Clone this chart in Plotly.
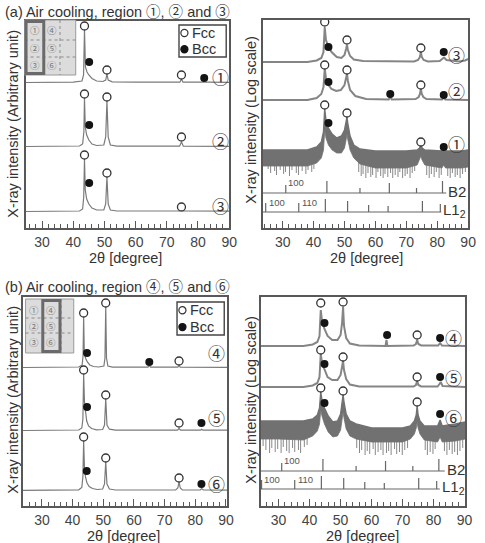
import plotly.graph_objects as go

W, H = 485, 543
FONT = "Liberation Sans, Arial, sans-serif"
CJK = "Noto Sans CJK JP"
TXT = "#333333"
LINE = "#585858"

# ======================= DATA =======================
# (a) left panel, linear scale: 2theta [deg] / intensity (arb. unit, height above baseline)
A1_X = [24.7, 40, 42.8, 43.3, 43.6, 43.9, 44.4, 45.0, 46.0, 47.5, 49.5, 50.4, 50.8, 51.2, 52.5, 60, 74.2, 74.7, 75.2, 81.5, 82.2, 83, 90]
A1_Y = [0.5, 0.8, 2, 8, 53, 16, 11, 8, 4.5, 2, 1.5, 3, 9, 3, 1.2, 0.8, 0.8, 4, 0.8, 0.8, 1.5, 0.8, 0.6]
A2_X = [24.7, 42, 43.0, 43.4, 43.6, 43.85, 44.3, 45.0, 46.0, 47.5, 49.8, 50.4, 50.8, 51.2, 51.9, 54, 74.1, 74.7, 75.3, 90]
A2_Y = [0.5, 1, 3, 15, 49, 20, 12, 7, 3, 1.5, 2, 10, 46, 10, 2, 0.8, 0.8, 5, 0.8, 0.6]
A3_X = [24.7, 42, 43.0, 43.35, 43.6, 43.85, 44.3, 45.0, 46.0, 47.5, 49.8, 50.4, 50.8, 51.2, 51.9, 54, 74.2, 74.7, 75.2, 90]
A3_Y = [0.5, 1, 3, 15, 53, 22, 13, 8, 4, 2, 2, 8, 35, 8, 2, 1, 1, 2.5, 1, 0.8]
A1_FCC_X, A1_FCC_Y = [43.6, 50.8, 74.7], [57, 13, 8]
A1_BCC_X, A1_BCC_Y = [45.1, 82.0], [21, 5]
A2_FCC_X, A2_FCC_Y = [43.6, 50.8, 74.7], [53, 50, 10]
A2_BCC_X, A2_BCC_Y = [45.1], [22]
A3_FCC_X, A3_FCC_Y = [43.6, 50.8, 74.7], [57, 39, 5]
A3_BCC_X, A3_BCC_Y = [45.1], [29]

# (a) right panel, log scale (display height above baseline)
RA3_X = [23.5, 38, 41.0, 42.5, 43.2, 43.6, 44.0, 44.8, 45.8, 47.5, 49.0, 50.0, 50.5, 50.8, 51.1, 51.8, 53.0, 56, 72.5, 73.8, 74.4, 74.7, 75.0, 75.6, 77, 80.8, 81.8, 82.2, 83.0, 87, 89, 90]
RA3_Y = [0, 0, 1.5, 4, 10, 35, 22, 15, 10, 5, 4, 7, 13, 17, 12, 6, 2.5, 1, 0.5, 2, 5, 10, 5, 2, 0.5, 1, 3.5, 4.5, 2, 0.5, 1.5, 3]
RA2_X = [23.5, 38, 41.0, 42.5, 43.2, 43.6, 44.0, 44.8, 45.8, 47.3, 48.8, 50.0, 50.5, 50.8, 51.1, 51.8, 53.5, 57, 64.3, 64.8, 65.3, 73.0, 74.0, 74.4, 74.7, 75.0, 75.5, 76.5, 81.6, 82.1, 82.6, 90]
RA2_Y = [0, 0, 2, 6, 13, 31, 22, 15, 11, 9, 10, 15, 22, 26, 19, 10, 4, 1, 0.5, 3, 0.5, 1, 3, 6, 11, 6, 3, 1, 0.5, 2.5, 0.5, 0]
RA1_X = [23.5, 30, 38, 41, 42.5, 43.2, 43.6, 44.0, 44.8, 46.0, 47.5, 49.0, 50.0, 50.5, 50.8, 51.1, 51.8, 53.0, 55, 60, 70, 73.5, 74.3, 74.7, 75.1, 76, 81.5, 82.1, 82.7, 88, 90]
RA1_UP = [0, 0, 0, 3, 8, 18, 41, 30, 22, 16, 12, 14, 20, 28, 33, 26, 14, 5, 1, -1, -1, 0, 2, 6, 2, 0, -1, 1, -1, -1, 0]
RA1_LO = [-16, -16, -16, -13, -8, 0, 20, 12, 5, 0, -3, -3, 2, 10, 16, 10, 0, -8, -14, -18, -18, -15, -10, -6, -10, -15, -18, -15, -18, -18, -17]
RA1_SPK_X = [25.3, 26.1, 27.4, 28.0, 29.2, 30.3, 30.9, 32.2, 33.0, 34.4, 35.1, 36.3, 37.5, 38.2, 39.4, 40.1,
             54.6, 55.4, 56.0, 56.9, 57.6, 58.5, 59.1, 60.2, 60.8, 61.7, 62.5, 63.1, 64.0, 64.9, 65.6, 66.4,
             67.3, 67.9, 68.8, 69.6, 70.3, 71.2, 71.9, 72.7, 76.6, 77.4, 78.1, 79.0, 79.7, 80.6, 81.3,
             83.4, 84.2, 84.9, 85.8, 86.5, 87.4, 88.2, 89.1]
RA1_SPK_D = [-19, -23, -21, -25, -20, -24, -22, -26, -20, -23, -25, -21, -24, -20, -22, -19,
             -22, -26, -24, -28, -23, -27, -25, -28, -22, -26, -28, -24, -27, -23, -28, -25,
             -27, -22, -28, -26, -24, -28, -23, -21, -25, -28, -24, -27, -22, -28, -25,
             -26, -28, -23, -27, -25, -28, -24, -22]
RA3_FCC_X, RA3_FCC_Y = [43.6, 50.8, 74.7], [40, 22, 14]
RA3_BCC_X, RA3_BCC_Y = [44.8, 82.1], [15, 10]
RA2_FCC_X, RA2_FCC_Y = [43.6, 50.8, 74.7], [35, 30, 15]
RA2_BCC_X, RA2_BCC_Y = [44.8, 64.8, 82.1], [18, 6, 5]
RA1_FCC_X, RA1_FCC_Y = [43.6, 50.8, 74.7], [45, 37, 8]
RA1_BCC_X, RA1_BCC_Y = [44.8, 82.1], [27, 3]

# (b) left panel
B4_X = [23.7, 42, 43.1, 43.4, 43.6, 43.8, 44.2, 44.8, 45.6, 46.8, 48.5, 50.2, 50.55, 50.8, 51.05, 51.5, 53, 64.6, 65.0, 65.4, 74.3, 74.7, 75.1, 90.4]
B4_Y = [0.5, 1, 3, 12, 51, 16, 10, 6, 3, 1.5, 1, 2, 10, 61, 10, 2, 0.8, 0.8, 2.5, 0.8, 0.8, 2.5, 0.8, 0.6]
B5_X = [23.7, 42, 43.0, 43.35, 43.6, 43.85, 44.2, 44.6, 45.2, 46.2, 47.8, 49.8, 50.4, 50.8, 51.2, 52, 54, 74.2, 74.7, 75.2, 81.7, 82.1, 82.5, 90.4]
B5_Y = [0.5, 1, 3, 12, 57, 30, 20, 10, 5, 2.5, 1.2, 1.5, 6, 32, 6, 1.8, 0.8, 0.8, 2.5, 0.8, 0.8, 1.8, 0.8, 0.8]
B6_X = [23.7, 42, 43.0, 43.35, 43.6, 43.85, 44.2, 44.7, 45.4, 46.5, 48.0, 49.8, 50.4, 50.8, 51.2, 52, 54, 73.6, 74.3, 74.7, 75.1, 75.8, 81.6, 82.1, 82.6, 90.4]
B6_Y = [0.6, 1.2, 3.5, 14, 50, 24, 14, 8, 4.5, 2.5, 1.5, 2, 7, 29, 7, 2, 1, 1, 3, 9, 3, 1, 1, 2.5, 1, 0.8]
B4_FCC_X, B4_FCC_Y = [43.6, 50.8, 74.7], [55, 65, 7]
B4_BCC_X, B4_BCC_Y = [44.7, 65.0], [15, 6]
B5_FCC_X, B5_FCC_Y = [43.6, 50.8, 74.7], [61, 36, 8]
B5_BCC_X, B5_BCC_Y = [44.7, 82.0], [24, 8]
B6_FCC_X, B6_FCC_Y = [43.6, 50.8, 74.7], [54, 33, 13]
B6_BCC_X, B6_BCC_Y = [44.6, 82.0], [20, 7]

# (b) right panel, log scale
RB4_X = [24.2, 38, 41.0, 42.5, 43.2, 43.6, 44.0, 44.8, 45.8, 47.3, 49.0, 50.0, 50.5, 50.8, 51.1, 51.8, 53.0, 56, 64.5, 64.8, 65.1, 73.5, 74.3, 74.7, 75.1, 76, 81.5, 82.1, 82.7, 90.2]
RB4_Y = [0, 0, 1.5, 4, 10, 36, 25, 17, 10, 6, 6, 11, 24, 39, 20, 8, 2.5, 0.5, 0, 6, 0, 0.5, 2, 6, 2, 0.5, 0.5, 3, 0.5, 0]
RB5_X = [24.2, 38, 41.0, 42.5, 43.2, 43.6, 44.0, 44.8, 45.8, 47.3, 49.0, 50.0, 50.5, 50.8, 51.1, 51.8, 53.0, 56, 73.5, 74.3, 74.7, 75.1, 76, 81.3, 81.9, 82.3, 82.9, 90.2]
RB5_Y = [0, 0, 1.5, 4, 10, 33, 24, 17, 10, 7, 7, 12, 21, 26, 17, 8, 2.5, 0.5, 0.5, 2, 6, 2, 0.5, 0.5, 3, 5, 1, 0]
RB6_X = [24.2, 30, 38, 41, 42.5, 43.2, 43.6, 44.0, 44.8, 46.0, 47.5, 49.0, 50.0, 50.5, 50.8, 51.1, 51.8, 53.0, 55, 60, 70, 72.5, 73.8, 74.4, 74.7, 75.0, 75.6, 77, 81.3, 82.1, 82.8, 87, 90.2]
RB6_UP = [3, 3, 3, 5, 9, 16, 32, 24, 16, 8, 2, 3, 10, 22, 29, 22, 10, 3, 0, -4, -4, -2, 3, 9, 18, 9, 3, -2, -2, 4, -2, 0, 2]
RB6_LO = [-15, -15, -16, -12, -7, 0, 14, 8, 0, -8, -13, -12, -6, 5, 12, 6, -5, -12, -15, -18, -18, -15, -10, -4, 2, -4, -10, -16, -18, -13, -18, -17, -15]
RB6_SPK_X = [25.0, 25.9, 27.1, 27.8, 28.9, 29.7, 30.8, 31.5, 32.6, 33.4, 34.5, 35.2, 36.4, 37.1, 38.3, 39.2,
             55.2, 56.1, 56.8, 57.9, 58.6, 59.4, 60.5, 61.2, 62.1, 63.0, 63.7, 64.8, 65.5, 66.3, 67.4,
             68.1, 69.0, 69.9, 70.7, 71.6, 77.3, 78.0, 78.9, 79.8, 80.5, 83.5, 84.3, 85.1, 86.0, 86.8, 87.7, 88.5, 89.4]
RB6_SPK_D = [-22, -26, -29, -24, -28, -25, -29, -23, -27, -29, -24, -28, -26, -29, -23, -21,
             -24, -29, -26, -31, -27, -30, -25, -31, -28, -26, -31, -29, -27, -31, -25,
             -30, -28, -31, -26, -24, -26, -31, -28, -30, -25, -27, -31, -26, -30, -28, -31, -27, -24]
RB4_FCC_X, RB4_FCC_Y = [43.6, 50.8, 74.7], [43, 44, 11]
RB4_BCC_X, RB4_BCC_Y = [44.8, 65.0, 82.1], [23, 11, 8]
RB5_FCC_X, RB5_FCC_Y = [43.6, 50.8, 74.7], [37, 30, 10]
RB5_BCC_X, RB5_BCC_Y = [44.8, 82.1], [23, 10]
RB6_FCC_X, RB6_FCC_Y = [43.6, 50.8, 74.7], [36, 33, 22]
RB6_BCC_X, RB6_BCC_Y = [44.8, 82.1], [21, 10]

# reference patterns (2theta, relative stick height)
B2_POS = [31.0, 44.3, 55.0, 64.5, 73.3, 81.7]
B2_H = [8, 12, 5, 10, 5, 12]
L12_POS = [24.5, 35.2, 43.8, 51.0, 57.8, 64.1, 75.2, 81.0]
L12_H = [9, 9, 13, 11, 7, 6, 11, 8]

TICK_VALS = [30, 40, 50, 60, 70, 80, 90]

# ======================= LAYOUT HELPERS =======================
def px(x):
    return x / W

def py(y):
    return 1 - y / H

PANELS = {
    "LT": dict(n="", xdom=(26, 233), ydom=(21, 228), xr=[24.7, 90]),
    "RT": dict(n="2", xdom=(267, 476), ydom=(20, 228), xr=[23.5, 90]),
    "LB": dict(n="3", xdom=(23, 231), ydom=(297, 506), xr=[23.7, 90.4]),
    "RB": dict(n="4", xdom=(265, 473), ydom=(297, 506), xr=[24.2, 90.2]),
}

fig = go.Figure()
layout_axes = {}
for key, p in PANELS.items():
    n = p["n"]
    h = p["ydom"][1] - p["ydom"][0]
    layout_axes["xaxis" + n] = dict(
        domain=[px(p["xdom"][0]), px(p["xdom"][1])], range=p["xr"], anchor="y" + n,
        showline=True, mirror=True, linecolor=LINE, linewidth=1.6,
        ticks="inside", ticklen=7, tickwidth=1.2, tickcolor=LINE,
        tickmode="array", tickvals=TICK_VALS,
        tickfont=dict(family=FONT, size=14, color="#444"),
        showgrid=False, zeroline=False, fixedrange=True,
        minor=dict(ticks="inside", ticklen=4, tickwidth=1, tickcolor=LINE,
                   tickmode="linear", tick0=0, dtick=2, showgrid=False),
    )
    layout_axes["yaxis" + n] = dict(
        domain=[py(p["ydom"][1]), py(p["ydom"][0])], range=[0, h], anchor="x" + n,
        showline=True, mirror=True, linecolor=LINE, linewidth=1.6,
        showticklabels=False, ticks="", showgrid=False, zeroline=False, fixedrange=True,
    )

def ax(key):
    n = PANELS[key]["n"]
    return dict(xaxis="x" + n, yaxis="y" + n)

def add_pattern(key, xs, ys, off, color="#7a7a7a", width=1.2):
    fig.add_trace(go.Scatter(x=xs, y=[off + v for v in ys], mode="lines",
                             line=dict(color=color, width=width), hoverinfo="skip",
                             showlegend=False, **ax(key)))

def add_band(key, xs, up, lo, off, spk_x=None, spk_d=None, color="#717171"):
    if spk_x:
        sx, sy = [], []
        for x, d in zip(spk_x, spk_d):
            sx += [x, x, None]
            sy += [off - 12, off + d, None]
        fig.add_trace(go.Scatter(x=sx, y=sy, mode="lines", line=dict(color="#7a7a7a", width=0.9),
                                 hoverinfo="skip", showlegend=False, **ax(key)))
    fig.add_trace(go.Scatter(x=xs, y=[off + v for v in lo], mode="lines",
                             line=dict(color=color, width=0.8), hoverinfo="skip",
                             showlegend=False, **ax(key)))
    fig.add_trace(go.Scatter(x=xs, y=[off + v for v in up], mode="lines", fill="tonexty",
                             fillcolor=color, line=dict(color=color, width=1.4),
                             hoverinfo="skip", showlegend=False, **ax(key)))

def add_markers(key, fx, fy, bx, by, off):
    fig.add_trace(go.Scatter(x=fx, y=[off + v for v in fy], mode="markers",
                             marker=dict(symbol="circle", size=8, color="white",
                                         line=dict(color="#333", width=1.3)),
                             hoverinfo="skip", showlegend=False, **ax(key)))
    fig.add_trace(go.Scatter(x=bx, y=[off + v for v in by], mode="markers",
                             marker=dict(symbol="circle", size=8, color="#141414",
                                         line=dict(width=0)),
                             hoverinfo="skip", showlegend=False, **ax(key)))

def add_refs(key, y_b2, y_l12, b2_end, l12_end, xr0):
    sx, sy = [xr0, b2_end, None], [y_b2, y_b2, None]
    for p_, h_ in zip(B2_POS, B2_H):
        sx += [p_, p_, None]
        sy += [y_b2, y_b2 + h_, None]
    sx += [xr0, l12_end, None]
    sy += [y_l12, y_l12, None]
    for p_, h_ in zip(L12_POS, L12_H):
        sx += [p_, p_, None]
        sy += [y_l12, y_l12 + h_, None]
    fig.add_trace(go.Scatter(x=sx, y=sy, mode="lines", line=dict(color="#666", width=1.2),
                             hoverinfo="skip", showlegend=False, **ax(key)))

# ---------- (a) left ----------
OFF_A = [145, 81, 16]
add_pattern("LT", A1_X, A1_Y, OFF_A[0])
add_pattern("LT", A2_X, A2_Y, OFF_A[1])
add_pattern("LT", A3_X, A3_Y, OFF_A[2])
add_markers("LT", A1_FCC_X, A1_FCC_Y, A1_BCC_X, A1_BCC_Y, OFF_A[0])
add_markers("LT", A2_FCC_X, A2_FCC_Y, A2_BCC_X, A2_BCC_Y, OFF_A[1])
add_markers("LT", A3_FCC_X, A3_FCC_Y, A3_BCC_X, A3_BCC_Y, OFF_A[2])

# ---------- (a) right ----------
OFF_RA = [78, 128, 166]
add_band("RT", RA1_X, RA1_UP, RA1_LO, OFF_RA[0], RA1_SPK_X, RA1_SPK_D)
add_pattern("RT", RA2_X, RA2_Y, OFF_RA[1], color="#858585", width=2.0)
add_pattern("RT", RA3_X, RA3_Y, OFF_RA[2], color="#858585", width=2.0)
add_refs("RT", 35, 16, 82.9, 81.3, 23.5)
add_markers("RT", RA1_FCC_X, RA1_FCC_Y, RA1_BCC_X, RA1_BCC_Y, OFF_RA[0])
add_markers("RT", RA2_FCC_X, RA2_FCC_Y, RA2_BCC_X, RA2_BCC_Y, OFF_RA[1])
add_markers("RT", RA3_FCC_X, RA3_FCC_Y, RA3_BCC_X, RA3_BCC_Y, OFF_RA[2])

# ---------- (b) left ----------
OFF_B = [138, 75, 15]
add_pattern("LB", B4_X, B4_Y, OFF_B[0])
add_pattern("LB", B5_X, B5_Y, OFF_B[1])
add_pattern("LB", B6_X, B6_Y, OFF_B[2])
add_markers("LB", B4_FCC_X, B4_FCC_Y, B4_BCC_X, B4_BCC_Y, OFF_B[0])
add_markers("LB", B5_FCC_X, B5_FCC_Y, B5_BCC_X, B5_BCC_Y, OFF_B[1])
add_markers("LB", B6_FCC_X, B6_FCC_Y, B6_BCC_X, B6_BCC_Y, OFF_B[2])

# ---------- (b) right ----------
OFF_RB = [160, 119, 82]
add_pattern("RB", RB4_X, RB4_Y, OFF_RB[0], color="#858585", width=2.0)
add_pattern("RB", RB5_X, RB5_Y, OFF_RB[1], color="#858585", width=2.0)
add_band("RB", RB6_X, RB6_UP, RB6_LO, OFF_RB[2], RB6_SPK_X, RB6_SPK_D)
add_refs("RB", 35, 17, 83.6, 82.0, 24.2)
add_markers("RB", RB4_FCC_X, RB4_FCC_Y, RB4_BCC_X, RB4_BCC_Y, OFF_RB[0])
add_markers("RB", RB5_FCC_X, RB5_FCC_Y, RB5_BCC_X, RB5_BCC_Y, OFF_RB[1])
add_markers("RB", RB6_FCC_X, RB6_FCC_Y, RB6_BCC_X, RB6_BCC_Y, OFF_RB[2])

# ======================= ANNOTATIONS =======================
ann = []

def paper_text(x, y, text, size=14.5, xanchor="center", angle=0, color=TXT, family=FONT):
    ann.append(dict(x=px(x), y=py(y), xref="paper", yref="paper", text=text, showarrow=False,
                    xanchor=xanchor, yanchor="middle", textangle=angle,
                    font=dict(family=family, size=size, color=color)))

def data_text(key, x, y, text, size=16, xanchor="center", color=TXT, family=FONT):
    n = PANELS[key]["n"]
    ann.append(dict(x=x, y=y, xref="x" + n, yref="y" + n, text=text, showarrow=False,
                    xanchor=xanchor, yanchor="middle",
                    font=dict(family=family, size=size, color=color)))

def cj(ch):
    return "<span style='font-family:Noto Sans CJK JP'>" + ch + "</span>"

paper_text(3, 10.5, "(a) Air cooling, region " + cj("\u2460") + ", " + cj("\u2461") + " and " + cj("\u2462"), xanchor="left")
paper_text(3, 285, "(b) Air cooling, region " + cj("\u2463") + ", " + cj("\u2464") + " and " + cj("\u2465"), xanchor="left")
paper_text(13, 124, "X-ray intensity (Arbitrary unit)", angle=-90)
paper_text(13, 400, "X-ray intensity (Arbitrary unit)", angle=-90)
paper_text(255, 120, "X-ray intensity (Log scale)", angle=-90)
paper_text(255, 400, "X-ray intensity (Log scale)", angle=-90)
paper_text(128, 258, "2\u03b8 [degree]")
paper_text(373, 258, "2\u03b8 [degree]")
paper_text(126, 536, "2\u03b8 [degree]")
paper_text(369, 536, "2\u03b8 [degree]")

# region labels inside panels
for key, xs, offs, labs, rel in [
    ("LT", 87.3, OFF_A, ["\u2460", "\u2461", "\u2462"], [7, 7, 7]),
    ("LB", 87.0, OFF_B, ["\u2463", "\u2464", "\u2465"], [16, 14, 8]),
    ("RT", 86.3, OFF_RA, ["\u2460", "\u2461", "\u2462"], [7, 10, 8]),
    ("RB", 86.3, OFF_RB, ["\u2463", "\u2464", "\u2465"], [9, 10, 7]),
]:
    for o, l, r in zip(offs, labs, rel):
        data_text(key, xs, o + r, l, size=17, family=CJK, color="#333333")

# reference labels
for key, yb, yl in [("RT", 35, 16), ("RB", 35, 17)]:
    b2_end = 82.9 if key == "RT" else 83.6
    l_end = 81.3 if key == "RT" else 82.0
    data_text(key, b2_end, yb + 2, "B2", size=15, xanchor="left")
    data_text(key, l_end, yl + 2, "L1<sub>2</sub>", size=15, xanchor="left")
    data_text(key, 31.0, yb + 11, "100", size=9.5, xanchor="left", color="#555")
    data_text(key, 24.8, yl + 10, "100", size=9.5, xanchor="left", color="#555")
    data_text(key, 35.5, yl + 10, "110", size=9.5, xanchor="left", color="#555")

# ======================= SHAPES (inset & legend) =======================
shapes = []

def rect(x0, y0, x1, y1, line="#444", lw=1.2, fill=None, dash=None):
    d = dict(type="rect", xref="paper", yref="paper", x0=px(x0), x1=px(x1), y0=py(y1), y1=py(y0),
             line=dict(color=line, width=lw, dash=dash or "solid"), layer="above")
    if fill:
        d["fillcolor"] = fill
    shapes.append(d)

def seg(x0, y0, x1, y1, color="#8a8a8a", lw=1, dash="dot"):
    shapes.append(dict(type="line", xref="paper", yref="paper", x0=px(x0), x1=px(x1),
                       y0=py(y0), y1=py(y1), line=dict(color=color, width=lw, dash=dash),
                       layer="above"))

def circ(cx, cy, r, fill, line="#333"):
    shapes.append(dict(type="circle", xref="paper", yref="paper", x0=px(cx - r), x1=px(cx + r),
                       y0=py(cy + r), y1=py(cy - r), fillcolor=fill,
                       line=dict(color=line, width=1.2), layer="above"))

# inset (a)
rect(25, 20, 77, 75, line="#9a9a9a", lw=1, fill="#dcdcdc")
seg(25, 40, 77, 40); seg(25, 57, 77, 57); seg(61, 20, 61, 75)
rect(26.5, 21.5, 44.5, 73.5, line="#6a6a6a", lw=3)
# inset (b)
rect(26, 299, 75, 353, line="#9a9a9a", lw=1, fill="#dcdcdc")
seg(26, 318, 75, 318); seg(26, 333, 75, 333); seg(62, 299, 62, 353)
rect(43.5, 300.5, 61, 351.5, line="#6a6a6a", lw=3)

for (cx, cy, t) in [(36, 30, "\u2460"), (36, 48, "\u2461"), (36, 65, "\u2462"),
                    (53, 30, "\u2463"), (53, 48, "\u2464"), (53, 65, "\u2465"),
                    (35, 310, "\u2460"), (35, 326, "\u2461"), (35, 342, "\u2462"),
                    (52, 310, "\u2463"), (52, 326, "\u2464"), (52, 342, "\u2465")]:
    paper_text(cx, cy, t, size=9.5, color="#777", family=CJK)

# legends
for (x0, y0, x1, y1) in [(182, 25, 230, 57), (180, 302, 228, 335)]:
    rect(x0, y0, x1, y1, line="#444", lw=1.4, fill="white")
    r1 = y0 + (y1 - y0) * 0.25
    r2 = y0 + (y1 - y0) * 0.76
    circ(x0 + 5.5, r1, 3.6, "white")
    circ(x0 + 5.5, r2, 3.6, "#141414", line="#141414")
    paper_text(x0 + 11.5, r1, "Fcc", size=14.5, xanchor="left")
    paper_text(x0 + 11.5, r2, "Bcc", size=14.5, xanchor="left")

fig.update_layout(
    width=W, height=H, margin=dict(l=0, r=0, t=0, b=0),
    paper_bgcolor="white", plot_bgcolor="white", showlegend=False,
    annotations=ann, shapes=shapes, **layout_axes,
)

fig.write_html("out.html", config={"displayModeBar": False})
